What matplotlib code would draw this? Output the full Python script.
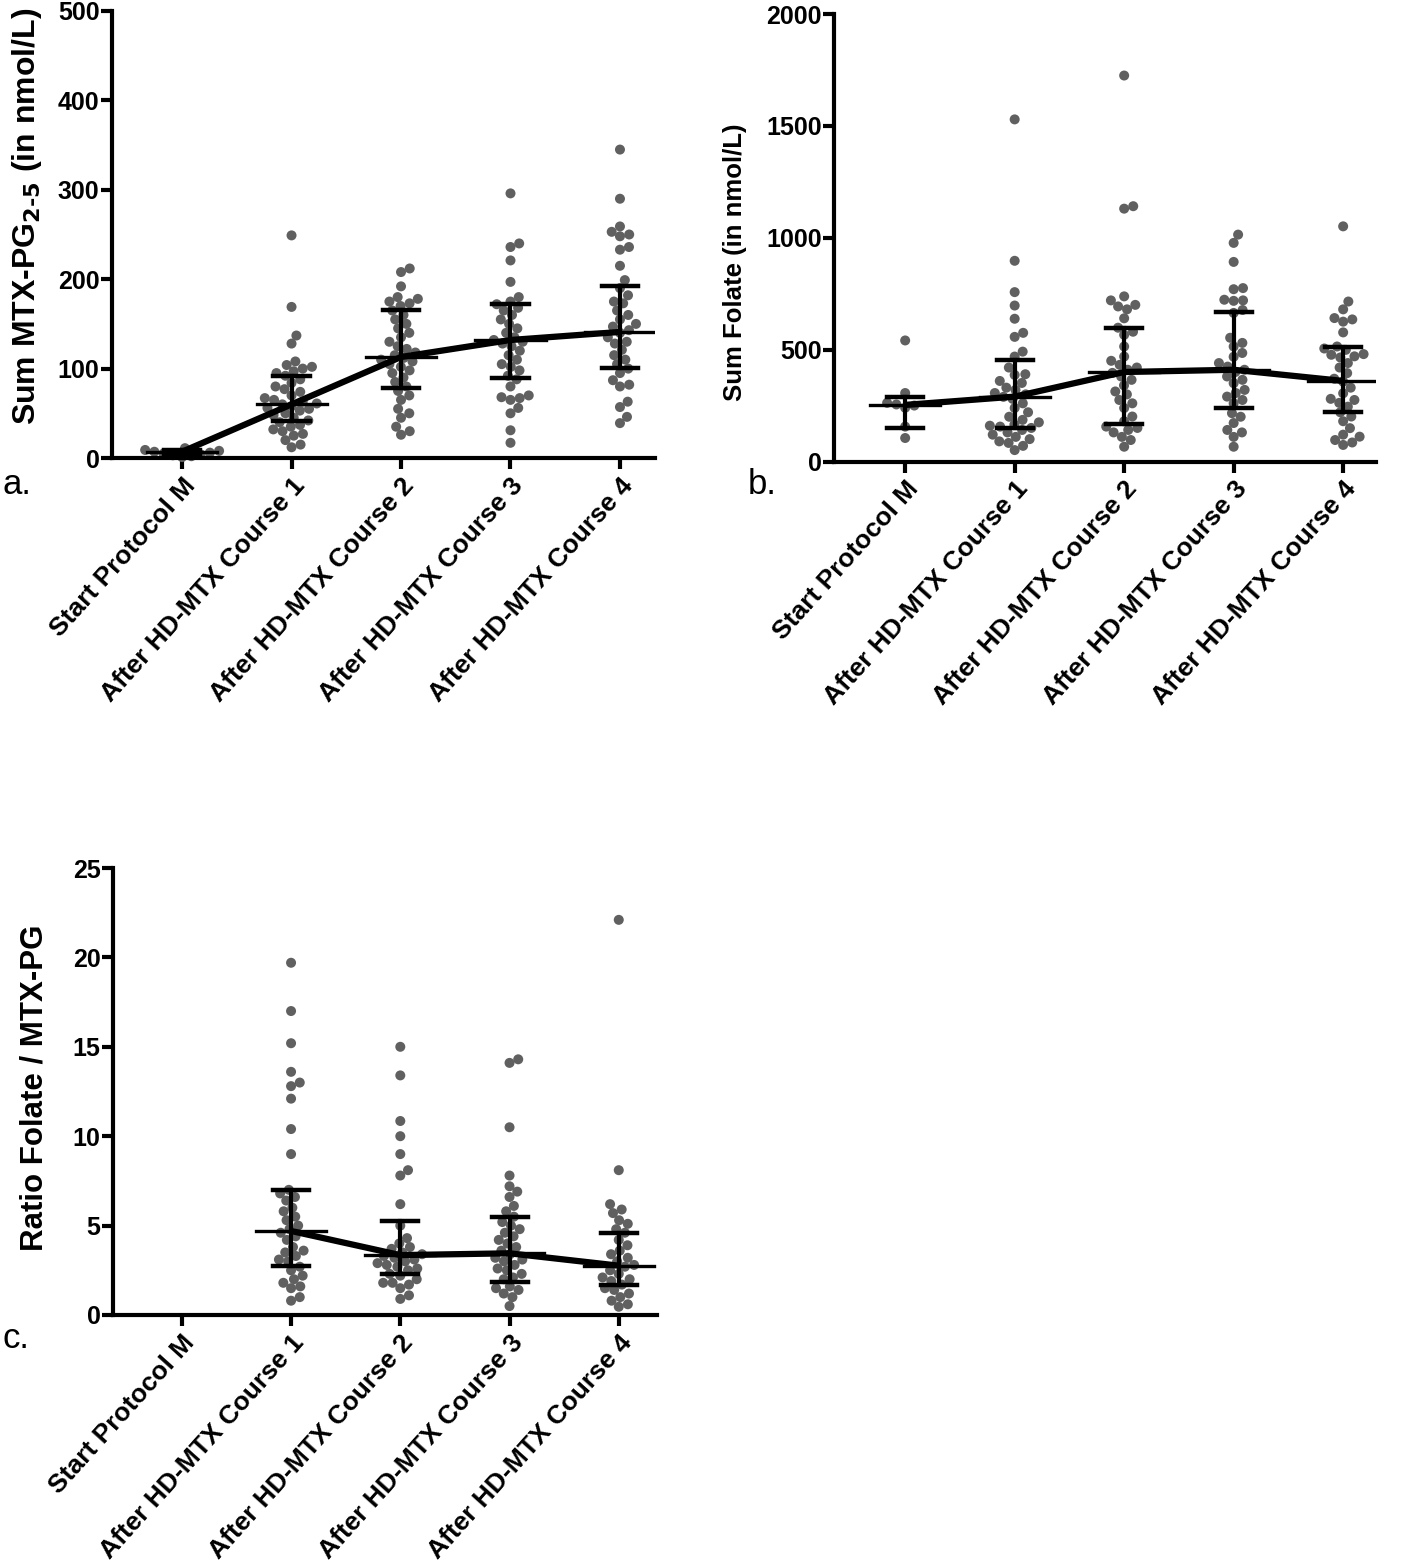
import numpy as np
import matplotlib
matplotlib.use("Agg")
import matplotlib.pyplot as plt

# =====================================
# 1. DATA
# =====================================
categories = ["Start Protocol M", "After HD-MTX Course 1", "After HD-MTX Course 2",
              "After HD-MTX Course 3", "After HD-MTX Course 4"]

# panel a: Sum MTX-PG 2-5 (nmol/L)
a_start = [1, 2, 3, 4, 5, 6, 7, 8, 9, 11]
a_c1 = [249, 169, 137, 128, 108, 104, 102, 100, 97, 95, 92, 88, 84, 80, 77, 74, 70, 67, 65,
        63, 61, 60, 58, 56, 55, 53, 50, 48, 45, 42, 40, 37, 35, 32, 30, 27, 25, 20, 15, 12]
a_c2 = [212, 208, 192, 180, 178, 175, 173, 170, 165, 160, 155, 150, 145, 140, 135, 130, 125,
        122, 118, 115, 112, 110, 108, 105, 102, 98, 95, 90, 85, 80, 75, 70, 65, 55, 50, 45,
        35, 30, 26]
a_c3 = [296, 240, 236, 221, 197, 180, 175, 172, 168, 165, 160, 155, 150, 145, 140, 135, 132,
        130, 128, 125, 120, 115, 110, 105, 102, 98, 92, 88, 80, 70, 68, 67, 65, 56, 50, 31, 17]
a_c4 = [345, 290, 259, 253, 250, 248, 236, 233, 215, 199, 190, 182, 175, 173, 165, 160, 155,
        150, 147, 143, 140, 135, 130, 128, 121, 115, 110, 105, 100, 95, 87, 82, 80, 63, 57,
        46, 39]
a_mid = [7, 60, 113, 132, 141]
a_lo = [4, 41, 78, 89, 101]
a_hi = [9, 92, 165, 172, 192]

# panel b: Sum Folate (nmol/L)
b_start = [541, 306, 262, 255, 250, 240, 156, 105]
b_c1 = [1529, 897, 757, 697, 638, 575, 557, 491, 469, 420, 390, 387, 360, 351, 330, 320, 306,
        300, 289, 280, 260, 239, 220, 200, 186, 175, 165, 160, 156, 150, 141, 130, 120, 110,
        100, 90, 83, 70, 51]
b_c2 = [1725, 1141, 1130, 738, 720, 700, 693, 680, 640, 598, 580, 566, 514, 469, 450, 432,
        420, 410, 396, 380, 365, 340, 313, 300, 275, 260, 239, 201, 180, 156, 150, 141, 130,
        110, 96, 66]
b_c3 = [1014, 977, 892, 775, 770, 723, 720, 718, 677, 664, 553, 530, 514, 485, 468, 440, 424,
        410, 400, 380, 365, 350, 320, 306, 290, 275, 260, 216, 200, 172, 141, 130, 110, 66]
b_c4 = [1051, 715, 680, 641, 635, 625, 577, 514, 505, 499, 480, 477, 470, 465, 440, 420, 395,
        370, 357, 330, 305, 280, 275, 262, 245, 220, 201, 180, 149, 120, 111, 96, 85, 74]
b_mid = [253, 290, 400, 410, 360]
b_lo = [151, 151, 168, 238, 219]
b_hi = [290, 454, 598, 666, 513]

# panel c: ratio folate / MTX-PG (no value at start)
c_c1 = [19.7, 17.0, 15.2, 13.6, 13.0, 12.8, 12.1, 10.4, 9.0, 7.0, 6.8, 6.6, 6.4, 6.0, 5.8,
        5.5, 5.3, 5.0, 4.8, 4.6, 4.4, 4.2, 3.8, 3.6, 3.5, 3.3, 3.1, 3.0, 2.7, 2.5, 2.2, 2.0,
        1.8, 1.6, 1.5, 1.0, 0.8]
c_c2 = [15.0, 13.4, 10.85, 10.0, 9.0, 8.1, 7.8, 6.2, 5.0, 4.3, 4.0, 3.8, 3.7, 3.5, 3.4, 3.3,
        3.2, 3.1, 3.0, 2.9, 2.8, 2.7, 2.6, 2.5, 2.3, 2.2, 2.0, 1.8, 1.8, 1.7, 1.5, 1.1, 0.9]
c_c3 = [14.3, 14.1, 10.5, 7.8, 7.2, 6.9, 6.6, 6.1, 5.8, 5.5, 5.2, 5.0, 4.8, 4.6, 4.4, 4.2,
        4.0, 3.8, 3.6, 3.4, 3.2, 3.1, 3.0, 2.8, 2.6, 2.5, 2.3, 2.1, 2.0, 1.6, 1.5, 1.4, 1.2,
        1.0, 0.5]
c_c4 = [22.1, 8.1, 6.2, 5.9, 5.7, 5.3, 5.1, 4.8, 4.6, 4.2, 3.9, 3.6, 3.4, 3.2, 3.0, 2.8, 2.7,
        2.5, 2.3, 2.1, 2.0, 1.9, 1.7, 1.5, 1.4, 1.2, 1.0, 0.8, 0.6, 0.46]
c_mid = [4.7, 3.35, 3.45, 2.76]
c_lo = [2.76, 2.3, 1.86, 1.68]
c_hi = [7.0, 5.26, 5.5, 4.57]

# =====================================
# 2. STYLE
# =====================================
plt.rcParams["font.family"] = ["Liberation Sans", "DejaVu Sans"]
plt.rcParams["font.weight"] = "bold"
dot_color = "#606060"
dot_size = 7.2
W, H = 1418, 1565

fig = plt.figure(figsize=(W / 100, H / 100), dpi=100)


def swarm_x(ax, x0, vals, d=9.4):
    # simple beeswarm in pixel space
    pts = ax.transData.transform(np.column_stack([np.full(len(vals), x0), vals]))
    px0 = pts[0, 0]
    ys = pts[:, 1]
    order = np.argsort(ys)
    placed = []
    xs = np.zeros(len(vals))
    for i in order:
        y = ys[i]
        cands = [0.0]
        for (qx, qy) in placed:
            dy = y - qy
            if abs(dy) < d:
                dx = np.sqrt(d * d - dy * dy)
                cands += [qx + dx, qx - dx]
        cands = sorted(cands, key=abs)
        for c in cands:
            ok = True
            for (qx, qy) in placed:
                if (c - qx) ** 2 + (y - qy) ** 2 < d * d - 1e-6:
                    ok = False
                    break
            if ok:
                break
        placed.append((c, y))
        xs[i] = c
    inv = ax.transData.inverted()
    out = inv.transform(np.column_stack([px0 + xs, ys]))
    return out[:, 0]


def make_panel(rect, xlim, ymax, ystep, groups, pos, mid, lo, hi):
    ax = fig.add_axes(rect)
    ax.set_xlim(*xlim)
    ax.set_ylim(0, ymax)
    ax.set_yticks(np.arange(0, ymax + ystep / 2, ystep))
    ax.set_xticks(range(len(categories)))
    ax.set_xticklabels(categories, rotation=48, ha="right", rotation_mode="anchor",
                       fontsize=19, fontweight="bold")
    for lab in ax.get_yticklabels():
        lab.set_fontsize(18)
        lab.set_fontweight("bold")
    for s in ["top", "right"]:
        ax.spines[s].set_visible(False)
    for s in ["left", "bottom"]:
        ax.spines[s].set_linewidth(3)
    ax.tick_params(axis="y", direction="out", length=8, width=3, pad=1)
    ax.tick_params(axis="x", direction="out", length=8, width=3, pad=3)

    for p, vals in zip(pos, groups):
        xs = swarm_x(ax, p, vals)
        ax.scatter(xs, vals, s=dot_size ** 2, color=dot_color, edgecolors="none",
                   zorder=2, clip_on=False)

    ax.plot(pos, mid, color="black", lw=4.5, zorder=4, solid_capstyle="butt")
    for p, m, l, h in zip(pos, mid, lo, hi):
        ax.plot([p, p], [l, h], color="black", lw=3, zorder=4)
        ax.plot([p - 0.165, p + 0.165], [l, l], color="black", lw=3.2, zorder=4)
        ax.plot([p - 0.165, p + 0.165], [h, h], color="black", lw=3.2, zorder=4)
        ax.plot([p - 0.32, p + 0.32], [m, m], color="black", lw=2.4, zorder=4)
    return ax


# =====================================
# 3. PANELS
# =====================================
make_panel([112 / W, 1 - 458 / H, 543 / W, 447 / H], (-0.64, 4.32), 500, 100,
           [a_start, a_c1, a_c2, a_c3, a_c4], [0, 1, 2, 3, 4], a_mid, a_lo, a_hi)

make_panel([834 / W, 1 - 461.5 / H, 542 / W, 447.5 / H], (-0.65, 4.30), 2000, 500,
           [b_start, b_c1, b_c2, b_c3, b_c4], [0, 1, 2, 3, 4], b_mid, b_lo, b_hi)

make_panel([113 / W, 1 - 1315 / H, 544 / W, 447 / H], (-0.63, 4.35), 25, 5,
           [c_c1, c_c2, c_c3, c_c4], [1, 2, 3, 4], c_mid, c_lo, c_hi)

# y axis titles (placed like the original, not centred on the axes)
fig.text(27 / W, 1 - 216 / H, r"Sum MTX-PG$_{\mathbf{2\text{-}5}}$ (in nmol/L)",
         fontsize=23, rotation=90, ha="center", va="center")
fig.text(735 / W, 1 - 262 / H, "Sum Folate (in nmol/L)",
         fontsize=18.5, rotation=90, ha="center", va="center")
fig.text(35 / W, 1 - 1088 / H, "Ratio Folate / MTX-PG",
         fontsize=22.5, rotation=90, ha="center", va="center")

fig.text(2 / W, 1 - 485 / H, "a.", fontsize=25, fontweight="normal", va="center", ha="left")
fig.text(748 / W, 1 - 485 / H, "b.", fontsize=25, fontweight="normal", va="center", ha="left")
fig.text(2 / W, 1 - 1338 / H, "c.", fontsize=25, fontweight="normal", va="center", ha="left")

plt.savefig("out.png", dpi=100)
plt.close()
